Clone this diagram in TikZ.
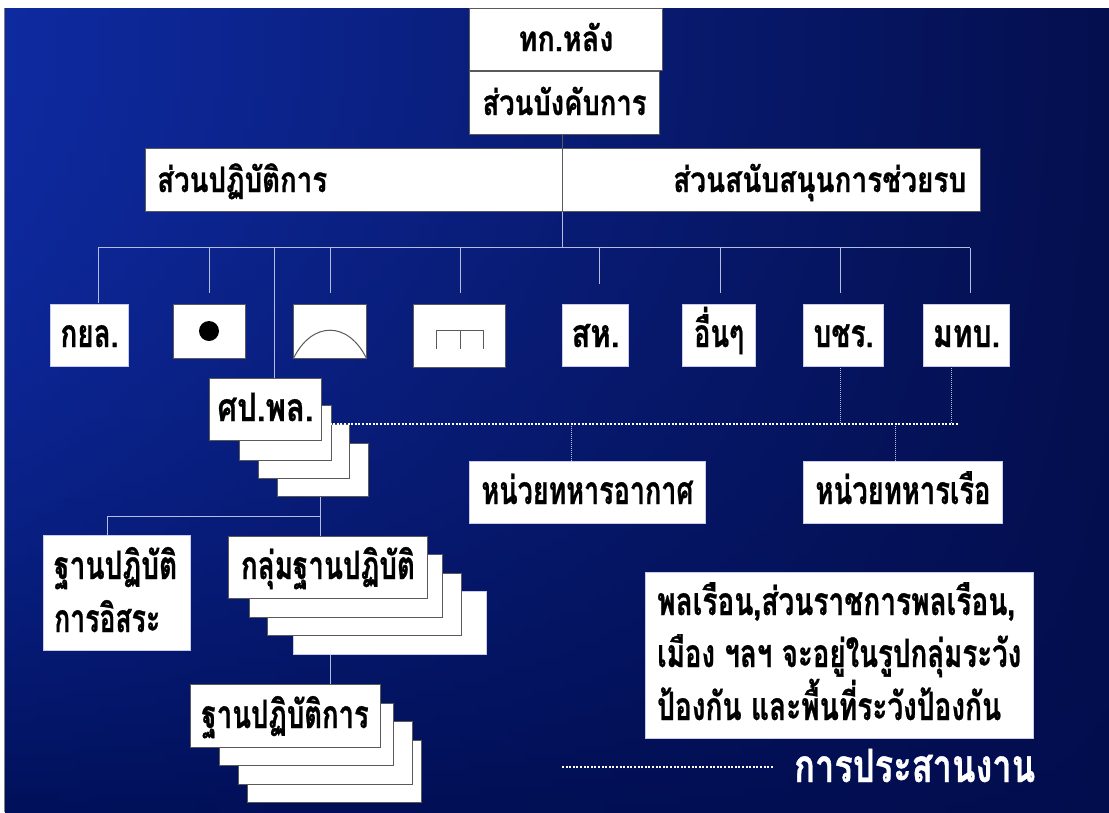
\documentclass[tikz,border=0pt]{standalone}
\usepackage{fontspec}
\usepackage{graphicx}
\newfontfamily\thai[Script=Thai,UprightFont=* Bold,FakeBold=0.8]{Loma}
\usetikzlibrary{calc}
\definecolor{tl}{HTML}{0E2AA0}
\definecolor{tm}{HTML}{0A2188}
\definecolor{tr}{HTML}{040F4E}
\definecolor{bl}{HTML}{00105A}
\definecolor{bm}{HTML}{000F5C}
\definecolor{br}{HTML}{020D4E}
\definecolor{wire}{HTML}{B4BCE2}
\definecolor{edge}{HTML}{5A5A5A}
\definecolor{pale}{HTML}{C8CCEA}
\tikzset{
  shadowbox/.style={draw=edge,line width=.6pt,fill=white,
    append after command={(\tikzlastnode.south west) edge[draw=edge,line width=1.1pt] (\tikzlastnode.south east)
      (\tikzlastnode.south east) edge[draw=edge,line width=1.1pt] (\tikzlastnode.north east)}},
  plainbox/.style={draw=pale,line width=.5pt,fill=white},
  wireline/.style={draw=wire,line width=1pt},
  dotline/.style={draw=white,line width=2pt,dash pattern=on 2pt off 1.6pt},
  faintdot/.style={draw=wire,line width=.9pt,dash pattern=on 1pt off 1pt},
}
\newcommand{\tw}[3]{{\fontsize{#1}{#1}\thai\resizebox{#2pt}{\height}{#3}}}
\newcommand{\abox}[8]{% style,name,x0,y0,x1,y1,baseline,text
  \pgfmathsetmacro{\mywd}{#5-#3}%
  \pgfmathsetmacro{\myht}{#6-#4}%
  \pgfmathsetmacro{\mycx}{(#3+#5)/2}%
  \pgfmathsetmacro{\mycy}{(#4+#6)/2}%
  \pgfmathsetmacro{\myup}{max(0,2*(#7-\mycy))}%
  \node[#1,inner sep=0pt,outer sep=0pt,minimum width=\mywd pt-.6pt,minimum height=\myht pt-.6pt,
    text height=\myup pt,text depth=0pt,anchor=center] (#2) at (\mycx,-\mycy) {#8};%
}
\begin{document}
\begin{tikzpicture}[x=1pt,y=1pt]
\useasboundingbox (0,0) rectangle (1109,-812);
\fill[white] (0,0) rectangle (1109,-812);
\foreach \r in {0,...,100}{
  \pgfmathsetmacro{\p}{int(100*(1-(\r/100)^2))}
  \pgfmathsetmacro{\ya}{-8-\r*8.04}
  \pgfmathsetmacro{\yb}{\ya-9.2}
  \pgfmathsetmacro{\yc}{max(\yb,-812)}
  \shade[left color=tl!\p!bl,middle color=tm!\p!bm,right color=tr!\p!br] (5,\ya) rectangle (1109,\yc);
}
\fill[white] (0,0) rectangle (4,-812);
\draw[gray,line width=1.5pt] (4.6,-8) -- (4.6,-812);

% coordinates of the buses and free ends
\coordinate (bus) at (562,-247.7);
\coordinate (busL) at (98,-247.7);
\coordinate (busR) at (970,-247.7);
\coordinate (d1) at (98,-303);
\coordinate (t2) at (209,-247.7); \coordinate (e2) at (209,-293);
\coordinate (t3) at (274,-247.7);
\coordinate (t4) at (330,-247.7); \coordinate (e4) at (330,-293);
\coordinate (t5) at (460,-247.7); \coordinate (e5) at (460,-293);
\coordinate (t6) at (599,-247.7); \coordinate (e6) at (599,-284);
\coordinate (t7) at (720,-247.7); \coordinate (e7) at (720,-293);
\coordinate (t8) at (840,-247.7); \coordinate (e8) at (840,-293);
\coordinate (e9) at (970,-293);
\coordinate (dotL) at (326,-423.5);
\coordinate (dotR) at (958,-423.5);
\coordinate (j1) at (840,-423.5);
\coordinate (j2) at (951,-423.5);
\coordinate (j3) at (571,-423.5);
\coordinate (j4) at (895,-423.5);
\coordinate (b2) at (320,-516.7);
\coordinate (b2L) at (107,-516.7);
\coordinate (u4) at (320,-497);
\coordinate (u5) at (330,-655);
\coordinate (legL) at (562,-767);
\coordinate (legR) at (774,-767);

% top boxes
\abox{shadowbox}{hq}{469}{8}{663}{71}{51}{\tw{35}{95}{ทก.หลัง}}
\abox{shadowbox}{cmd}{469}{71}{660}{135}{115}{\tw{35}{164}{ส่วนบังคับการ}}
\abox{shadowbox}{wide}{144.5}{148}{981}{212}{192}{}
\node[anchor=base west,inner sep=0pt] (opt) at (157,-192) {\tw{35}{170}{ส่วนปฏิบัติการ}};
\node[anchor=base west,inner sep=0pt] (sup) at (673,-192) {\tw{35}{293}{ส่วนสนับสนุนการช่วยรบ}};

% connectors from the top
\draw[edge,line width=.8pt] (cmd.south -| bus) -- (wide.south -| bus);
\draw[wireline] (wide.south -| bus) -- (bus);
\draw[wireline] (busL) -- (busR);

% second row
\abox{plainbox}{kyl}{50}{304}{129}{367}{347}{\tw{39}{58}{กยล.}}
\abox{shadowbox}{dotbox}{172.5}{304}{246}{359}{331}{}
\node[circle,fill=black,inner sep=0pt,minimum size=20pt] (dot) at (209,-331) {};
\abox{shadowbox}{arcbox}{293}{304}{367}{359}{331}{}
\abox{shadowbox}{gate}{413}{304}{506}{368}{336}{}
\abox{plainbox}{sh}{562}{304}{629}{366.5}{347}{\tw{39}{48}{สห.}}
\abox{plainbox}{etc}{682}{304}{756}{366.5}{347}{\tw{39}{50}{อื่นๆ}}
\abox{plainbox}{bch}{803}{304}{884}{366.5}{347}{\tw{39}{60}{บชร.}}
\abox{plainbox}{mtb}{923}{304}{1010}{366.5}{347}{\tw{39}{67}{มทบ.}}
\draw[edge,line width=1pt] (arcbox.south west) .. controls (312,-320.7) and (348,-320.7) .. (arcbox.south east);
\coordinate (g1) at (436,-349); \coordinate (g2) at (436,-330); \coordinate (g3) at (483,-330);
\coordinate (g4) at (483,-349); \coordinate (g5) at (460,-330); \coordinate (g6) at (460,-349);
\draw[edge,line width=1pt] (g1) -- (g2) -- (g3) -- (g4);
\draw[edge,line width=1pt] (g5) -- (g6);

% drops
\draw[wireline] (busL) -- (d1);
\draw[wireline] (t2) -- (e2);
\draw[wireline] (t4) -- (e4);
\draw[wireline] (t5) -- (e5);
\draw[wireline] (t6) -- (e6);
\draw[wireline] (t7) -- (e7);
\draw[wireline] (t8) -- (e8);
\draw[wireline] (busR) -- (e9);

% ops-centre stack
\abox{shadowbox}{c4}{277}{443}{368.5}{497}{470}{}
\abox{shadowbox}{c3}{258}{424}{350}{479}{450}{}
\abox{shadowbox}{c2}{239}{405}{332}{460.5}{430}{}
\abox{shadowbox}{c1}{209}{378}{322}{441}{421}{\tw{39}{96}{ศป.พล.}}
\draw[wireline] (t3) -- (t3 |- c1.north);

% coordination (dotted)
\abox{plainbox}{air}{469}{461}{706}{524}{504}{\tw{39}{212}{หน่วยทหารอากาศ}}
\abox{plainbox}{navy}{803}{461}{1003}{524}{504}{\tw{39}{175}{หน่วยทหารเรือ}}
\draw[faintdot] (j1 |- bch.south) -- (j1);
\draw[faintdot] (j2 |- mtb.south) -- (j2);
\draw[faintdot] (j3) -- (j3 |- air.north);
\draw[faintdot] (j4) -- (j4 |- navy.north);
\draw[dotline] (dotL) -- (dotR);

% lower branch
\abox{plainbox}{free}{43}{535}{190.5}{651}{579}{}
\node[anchor=base west,inner sep=0pt] (free1) at (54,-579) {\tw{39}{123}{ฐานปฏิบัติ}};
\node[anchor=base west,inner sep=0pt] (free2) at (54,-632) {\tw{39}{106}{การอิสระ}};
\abox{plainbox}{g4b}{293}{591}{487}{655}{620}{}
\abox{shadowbox}{g3b}{267}{572.5}{461.5}{636}{600}{}
\abox{shadowbox}{g2b}{249}{554}{443}{618}{580}{}
\abox{shadowbox}{g1b}{228}{535.5}{428}{599}{579}{\tw{39}{174}{กลุ่มฐานปฏิบัติ}}
\draw[wireline] (u4) -- (u4 |- g1b.north);
\draw[wireline] (b2L) -- (b2);
\draw[wireline] (b2L) -- (b2L |- free.north);
\abox{shadowbox}{s4}{247}{739.5}{422}{803}{770}{}
\abox{shadowbox}{s3}{238}{721}{413}{785}{750}{}
\abox{shadowbox}{s2}{219}{702.5}{394}{766}{730}{}
\abox{shadowbox}{s1}{189.5}{684}{381}{747.5}{728}{\tw{39}{167}{ฐานปฏิบัติการ}}
\draw[wireline] (u5) -- (u5 |- s1.north);

% note
\abox{plainbox}{note}{645}{572}{1034}{739}{660}{}
\node[anchor=base west,inner sep=0pt] (n1) at (657,-615) {\tw{39}{358}{พลเรือน,ส่วนราชการพลเรือน,}};
\node[anchor=base west,inner sep=0pt] (n2) at (657,-667) {\tw{39}{364}{เมือง ฯลฯ จะอยู่ในรูปกลุ่มระวัง}};
\node[anchor=base west,inner sep=0pt] (n3) at (657,-720) {\tw{39}{344}{ป้องกัน และพื้นที่ระวังป้องกัน}};

% legend
\draw[dotline] (legL) -- (legR);
\node[anchor=base west,inner sep=0pt,text=white] (leg) at (794,-782) {\tw{46}{241}{การประสานงาน}};
\end{tikzpicture}
\end{document}
